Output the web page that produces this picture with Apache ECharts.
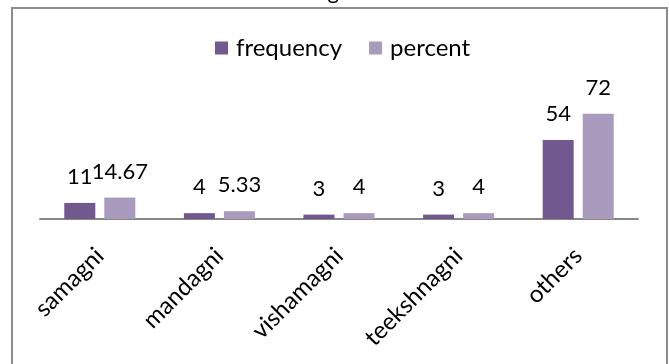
<!DOCTYPE html>
<html>
<head>
<meta charset="utf-8">
<script src="https://cdn.jsdelivr.net/npm/echarts@6/dist/echarts.min.js"></script>
<style>
html,body{margin:0;padding:0;background:#fff;}
#chart{width:669px;height:364px;}
</style>
</head>
<body>
<div id="chart"></div>
<script>
const titleText = 'Agni';
const categories = ['samagni', 'mandagni', 'vishamagni', 'teekshnagni', 'others'];
const frequency = [11, 4, 3, 3, 54];
const percent = [14.67, 5.33, 4, 4, 72];
const seriesNames = ['frequency', 'percent'];

const FONT = 'Lato';
const chart = echarts.init(document.getElementById('chart'), null, {renderer: 'canvas'});
const labelStyle = {
  show: true, position: 'top', distance: 15,
  fontFamily: FONT, fontSize: 22, color: '#000'
};
chart.setOption({
  animation: false,
  backgroundColor: '#fff',
  title: {
    text: titleText, left: 'center', top: -24,
    textStyle: {fontFamily: FONT, fontSize: 22, fontWeight: 'normal', color: '#000'}
  },
  graphic: [{
    type: 'rect', shape: {x: 12, y: 8, width: 655, height: 380},
    style: {fill: 'none', stroke: '#8c8c8c', lineWidth: 2}, silent: true, z: -1
  }],
  legend: {
    top: 31, left: 210,
    itemWidth: 13, itemHeight: 13, itemGap: 27,
    icon: 'rect',
    textStyle: {fontFamily: FONT, fontSize: 24, color: '#000', padding: [0, 0, 0, 3]},
    data: seriesNames
  },
  grid: {left: 40, right: 31, top: 102, bottom: 145, containLabel: false},
  xAxis: {
    type: 'category', data: categories,
    axisLine: {lineStyle: {color: '#868686', width: 2}},
    axisTick: {show: false},
    axisLabel: {rotate: 45, margin: 33, verticalAlign: 'middle', fontFamily: FONT, fontSize: 24, color: '#000', interval: 0}
  },
  yAxis: {
    type: 'value', min: 0, max: 80, show: false, splitLine: {show: false}
  },
  series: [
    {name: seriesNames[0], type: 'bar', data: frequency, barGap: '29%', barCategoryGap: '40.6%',
     itemStyle: {color: '#71588F'}, label: labelStyle},
    {name: seriesNames[1], type: 'bar', data: percent, barGap: '29%', barCategoryGap: '40.6%',
     itemStyle: {color: '#A99BBD'}, label: labelStyle}
  ]
});
</script>
</body>
</html>
